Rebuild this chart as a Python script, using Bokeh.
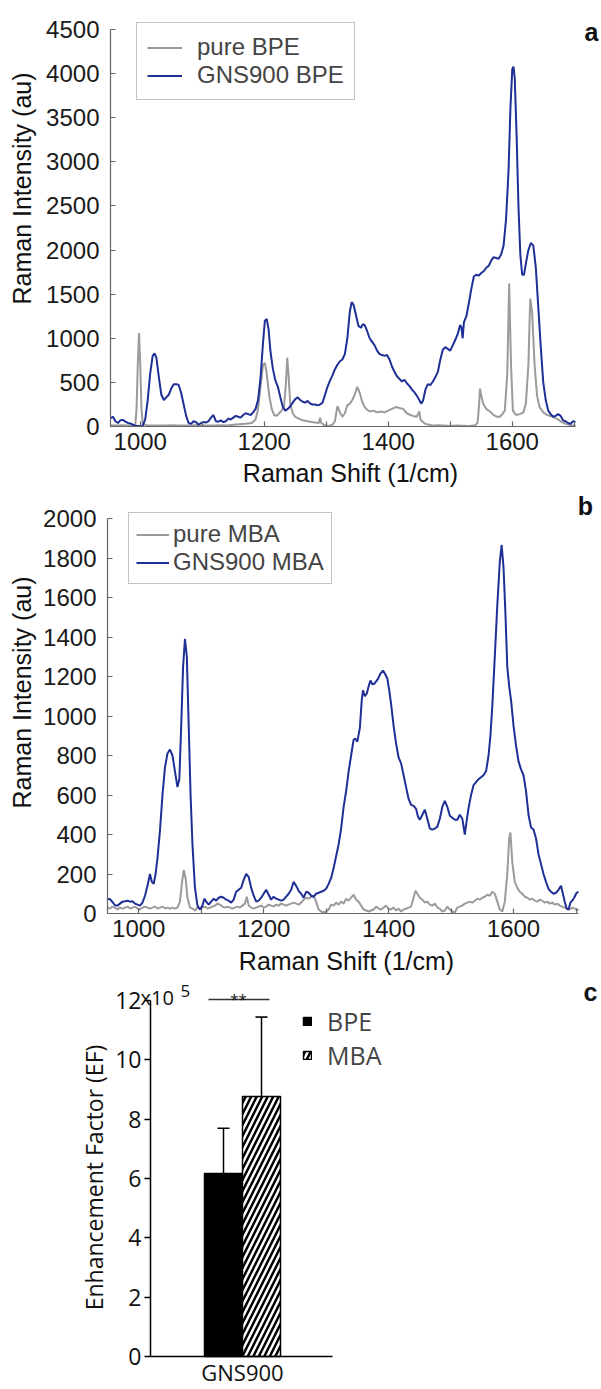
import math
from bokeh.plotting import figure
from bokeh.models import (Legend, LegendItem, Label, FixedTicker, Whisker, TeeHead,
                          ColumnDataSource, Range1d)
from bokeh.layouts import column
from bokeh.embed import file_html
from bokeh.resources import INLINE

# ---------------- data ----------------
# Panel a: BPE spectra (Raman shift 1/cm, intensity au)
bpe_pure = [(952,15),(960,10),(970,15),(980,10),(988,12),(992,20),(994,200),(996,700),(998,1060),
    (1000,700),(1002,200),(1004,30),(1010,15),(1020,10),(1030,12),(1040,10),(1050,15),(1060,10),
    (1070,12),(1080,10),(1090,15),(1100,10),(1110,12),(1120,10),(1130,15),(1140,12),(1150,20),
    (1160,25),(1170,30),(1180,40),(1186,80),(1190,200),(1194,450),(1198,700),(1201,720),(1204,600),
    (1208,350),(1212,200),(1216,130),(1220,120),(1224,150),(1228,180),(1232,230),(1235,500),
    (1237,780),(1239,600),(1242,250),(1246,150),(1250,110),(1256,90),(1262,70),(1270,60),(1276,50),
    (1282,45),(1288,40),(1290,100),(1292,40),(1298,10),(1304,5),(1310,20),(1314,60),(1318,230),
    (1322,160),(1326,110),(1330,150),(1334,240),(1338,260),(1342,300),(1346,360),(1350,450),
    (1354,380),(1358,280),(1362,220),(1366,190),(1370,170),(1376,180),(1382,160),(1388,170),
    (1394,160),(1400,180),(1406,200),(1412,220),(1418,210),(1424,200),(1430,150),(1436,130),
    (1440,120),(1446,110),(1450,170),(1452,80),(1456,50),(1460,30),(1466,20),(1472,10),(1480,15),
    (1490,10),(1500,5),(1510,10),(1520,8),(1530,5),(1540,15),(1544,40),(1546,200),(1548,430),
    (1550,350),(1553,260),(1558,200),(1564,170),(1570,130),(1576,110),(1580,110),(1584,140),
    (1588,180),(1592,600),(1595,1620),(1598,700),(1601,180),(1606,130),(1612,140),(1618,160),
    (1622,260),(1626,700),(1629,1450),(1632,1300),(1636,700),(1640,350),(1644,220),(1650,160),
    (1656,130),(1662,120),(1668,100),(1674,80),(1680,50),(1686,30),(1692,20),(1698,10),(1702,8)]

bpe_gns900 = [(952,95),(956,110),(960,60),(964,40),(968,70),(972,75),(976,55),(980,40),(984,35),
    (988,20),(992,10),(996,5),(1000,5),(1004,10),(1008,80),(1012,300),(1016,600),(1020,800),
    (1023,830),(1026,780),(1030,560),(1034,360),(1038,300),(1042,330),(1046,360),(1050,430),
    (1054,480),(1058,480),(1062,470),(1066,380),(1070,250),(1074,120),(1078,40),(1082,30),(1086,60),
    (1090,50),(1094,20),(1098,40),(1102,50),(1106,45),(1110,60),(1114,100),(1118,130),(1122,60),
    (1126,55),(1130,70),(1134,50),(1138,60),(1142,90),(1146,80),(1150,100),(1154,120),(1158,110),
    (1162,100),(1166,130),(1170,150),(1174,140),(1178,130),(1182,160),(1186,200),(1190,300),
    (1194,550),(1198,950),(1201,1200),(1204,1220),(1207,1100),(1210,850),(1214,650),(1218,520),
    (1222,450),(1226,330),(1230,220),(1234,180),(1238,200),(1242,230),(1246,270),(1250,310),
    (1254,330),(1258,300),(1262,280),(1266,270),(1270,290),(1274,260),(1278,250),(1282,250),
    (1286,240),(1290,250),(1294,270),(1298,360),(1302,450),(1306,520),(1310,580),(1314,650),
    (1318,700),(1322,740),(1326,760),(1330,820),(1334,1000),(1338,1300),(1341,1410),(1344,1380),
    (1348,1260),(1352,1140),(1356,1120),(1359,1160),(1362,1150),(1366,1080),(1370,1000),
    (1374,960),(1378,920),(1382,860),(1386,820),(1390,810),(1394,800),(1398,810),(1402,760),
    (1406,680),(1410,620),(1414,570),(1418,540),(1422,510),(1426,530),(1430,490),(1434,460),
    (1438,420),(1442,390),(1446,350),(1450,300),(1453,260),(1456,290),(1460,420),(1464,480),
    (1468,470),(1472,510),(1476,560),(1480,620),(1484,760),(1488,870),(1492,900),(1496,880),
    (1500,860),(1504,920),(1508,980),(1512,1050),(1516,1150),(1518,1120),(1520,1000),(1522,1180),
    (1526,1250),(1530,1400),(1534,1560),(1538,1700),(1542,1720),(1546,1710),(1550,1740),
    (1554,1760),(1558,1800),(1562,1820),(1566,1880),(1570,1920),(1574,1910),(1578,1900),
    (1582,1950),(1586,2050),(1590,2350),(1594,2900),(1597,3600),(1600,4050),(1602,4080),
    (1604,3950),(1607,3300),(1610,2500),(1613,1950),(1616,1720),(1619,1720),(1622,1850),
    (1626,2000),(1630,2080),(1634,2050),(1638,1800),(1642,1350),(1646,900),(1650,500),(1654,300),
    (1658,180),(1662,140),(1666,110),(1670,120),(1674,140),(1678,120),(1682,70),(1686,60),
    (1690,40),(1694,30),(1698,60),(1702,50)]

# Panel b: MBA spectra
mba_pure = [(950,30),(954,25),(958,35),(962,30),(966,20),(970,30),(974,25),(978,30),(982,35),
    (986,25),(990,30),(994,35),(998,25),(1002,20),(1006,30),(1010,35),(1014,30),(1018,25),
    (1022,30),(1026,35),(1030,25),(1034,30),(1038,35),(1042,25),(1046,30),(1050,25),(1054,30),
    (1058,25),(1062,30),(1066,60),(1069,150),(1072,220),(1075,180),(1078,80),(1082,30),(1086,25),
    (1090,15),(1094,30),(1098,25),(1102,30),(1106,35),(1110,25),(1114,30),(1118,35),(1122,40),
    (1126,50),(1130,45),(1134,35),(1138,30),(1142,35),(1146,30),(1150,25),(1154,30),(1158,35),
    (1162,30),(1166,40),(1170,50),(1173,85),(1176,40),(1180,30),(1184,25),(1188,30),(1192,35),
    (1196,40),(1200,30),(1204,35),(1208,45),(1212,40),(1216,35),(1220,45),(1224,40),(1228,50),
    (1232,45),(1236,40),(1240,45),(1244,50),(1248,55),(1252,50),(1256,45),(1260,55),(1264,70),
    (1268,80),(1272,75),(1276,85),(1280,90),(1284,60),(1288,20),(1292,10),(1296,5),(1300,10),
    (1304,20),(1308,45),(1312,40),(1316,55),(1320,45),(1324,60),(1328,50),(1332,75),(1336,65),
    (1340,80),(1344,95),(1348,70),(1352,60),(1356,40),(1360,20),(1364,15),(1368,10),(1372,15),
    (1376,20),(1380,35),(1384,25),(1388,20),(1392,30),(1396,40),(1400,25),(1404,20),(1408,30),
    (1412,15),(1416,25),(1420,10),(1424,20),(1428,25),(1432,30),(1436,35),(1440,80),(1443,115),
    (1446,100),(1450,80),(1454,70),(1458,55),(1462,60),(1466,45),(1470,40),(1474,50),(1478,30),
    (1482,25),(1486,10),(1490,15),(1494,35),(1498,20),(1502,10),(1506,5),(1510,30),(1514,35),
    (1518,40),(1522,50),(1526,55),(1530,60),(1534,55),(1538,65),(1542,75),(1546,70),(1550,80),
    (1554,85),(1558,95),(1562,90),(1566,110),(1570,100),(1574,60),(1578,20),(1582,10),(1586,60),
    (1590,200),(1593,380),(1595,410),(1598,260),(1602,160),(1606,130),(1610,110),(1614,100),
    (1618,85),(1622,80),(1626,70),(1630,75),(1634,65),(1638,60),(1642,70),(1646,65),(1650,55),
    (1654,60),(1658,50),(1662,55),(1666,45),(1670,50),(1674,40),(1678,35),(1682,30),(1686,25),
    (1690,20),(1694,30),(1698,25),(1702,20),(1704,15)]

mba_gns900 = [(950,75),(954,72),(958,58),(962,42),(966,40),(970,50),(974,60),(978,62),(982,65),
    (986,60),(990,62),(994,50),(998,45),(1002,40),(1006,55),(1010,90),(1014,140),(1018,200),
    (1021,160),(1024,150),(1027,200),(1030,280),(1034,420),(1038,600),(1042,740),(1046,810),
    (1050,830),(1054,800),(1058,720),(1062,640),(1065,680),(1068,950),(1071,1250),(1074,1390),
    (1077,1300),(1080,950),(1083,600),(1086,350),(1090,130),(1094,40),(1098,20),(1102,40),
    (1105,75),(1108,60),(1112,45),(1116,60),(1120,75),(1124,65),(1128,80),(1132,85),(1136,80),
    (1140,70),(1144,65),(1148,55),(1152,70),(1156,110),(1160,120),(1164,130),(1168,170),
    (1172,200),(1176,185),(1180,130),(1184,90),(1188,60),(1192,65),(1196,80),(1200,100),
    (1204,120),(1208,95),(1212,70),(1216,85),(1220,75),(1224,70),(1228,65),(1232,70),(1236,85),
    (1240,100),(1244,120),(1248,160),(1252,140),(1256,115),(1260,100),(1264,80),(1268,110),
    (1272,105),(1276,90),(1280,85),(1284,100),(1288,105),(1292,110),(1296,115),(1300,125),
    (1304,150),(1308,180),(1312,230),(1316,290),(1320,350),(1324,430),(1328,540),(1332,620),
    (1336,720),(1340,800),(1344,880),(1347,885),(1350,870),(1354,940),(1357,1080),(1359,1130),
    (1362,1100),(1365,1113),(1368,1150),(1371,1180),(1374,1160),(1377,1163),(1380,1175),
    (1383,1188),(1387,1215),(1391,1230),(1394,1215),(1398,1190),(1401,1130),(1404,1060),
    (1408,950),(1412,860),(1416,790),(1420,760),(1424,700),(1428,640),(1432,580),(1436,550),
    (1440,545),(1444,530),(1447,490),(1450,475),(1454,500),(1458,525),(1462,480),(1466,430),
    (1470,425),(1474,430),(1478,440),(1482,480),(1486,540),(1490,570),(1494,540),(1498,495),
    (1502,485),(1506,475),(1510,475),(1514,500),(1518,480),(1522,400),(1525,470),(1528,535),
    (1532,600),(1536,650),(1540,665),(1544,680),(1548,690),(1552,700),(1556,720),(1560,800),
    (1563,900),(1566,1050),(1570,1300),(1574,1560),(1578,1780),(1581,1866),(1584,1750),
    (1587,1520),(1590,1250),(1593,1150),(1596,1080),(1600,950),(1604,850),(1608,770),(1612,730),
    (1616,700),(1620,620),(1624,500),(1628,435),(1632,425),(1636,380),(1640,300),(1644,250),
    (1648,200),(1652,160),(1656,125),(1660,110),(1664,100),(1668,105),(1672,120),(1676,140),
    (1679,100),(1682,60),(1685,25),(1688,20),(1691,55),(1694,65),(1697,80),(1701,105),(1704,110)]

# Panel c: enhancement factor (x10^5)
ef_group = "GNS900"
ef_probe = ["BPE", "MBA"]
ef_mean = [6.17, 8.76]
ef_err = [1.52, 2.68]
sig_label = "**"

a_xticks = [1000, 1100, 1200, 1300, 1400, 1500, 1600, 1700]
a_yticks = [0, 500, 1000, 1500, 2000, 2500, 3000, 3500, 4000, 4500]
b_xticks = [1000, 1100, 1200, 1300, 1400, 1500, 1600, 1700]
b_yticks = [0, 200, 400, 600, 800, 1000, 1200, 1400, 1600, 1800, 2000]
c_yticks = [0, 2, 4, 6, 8, 10, 12]
x_label_show = [1000, 1200, 1400, 1600]

# ---------------- style ----------------
W = 601
SANS = "Liberation Sans"
SANS_C = "Open Sans"
BLUE = "#1e2f96"
GRAY = "#9b9b9b"
AXC = "#666666"


def unzip(pairs):
    return [p[0] for p in pairs], [p[1] for p in pairs]


class Panel:
    """Figure whose frame fills the whole canvas; maps page pixels <-> data."""
    def __init__(self, top, height, xa, xb, ya, yb):
        # xa/xb: (page px, data value); ya/yb: (page py, data value)
        self.top, self.h = top, height
        self.xpx, self.xval = xa
        self.xs = (xb[0] - xa[0]) / (xb[1] - xa[1])
        self.ypx, self.yval = ya
        self.ys = (ya[0] - yb[0]) / (yb[1] - ya[1])
        self.x_range = (self.x(0), self.x(W))
        self.y_range = (self.y(top + height), self.y(top))

    def x(self, px):
        return self.xval + (px - self.xpx) / self.xs

    def y(self, py):
        return self.yval + (self.ypx - py) / self.ys

    def fig(self):
        p = figure(width=W, height=self.h, x_range=Range1d(*self.x_range),
                   y_range=Range1d(*self.y_range), output_backend="svg", toolbar_location=None,
                   min_border=0, min_border_left=0, min_border_right=0,
                   min_border_top=0, min_border_bottom=0)
        p.outline_line_color = None
        p.grid.visible = False
        p.background_fill_color = "white"
        p.border_fill_color = "white"
        return p

    def text(self, p, px, py, text, size, font=SANS, align="center", baseline="middle",
             angle=0.0, style="normal"):
        p.add_layout(Label(x=self.x(px), y=self.y(py), text=text, text_font=font,
                           text_font_size=size, text_align=align, text_baseline=baseline,
                           angle=angle, text_font_style=style, text_color="#111111"))


def spectrum_axes(p, xb, yb, xticks, yticks):
    p.xaxis.fixed_location = yb[0]
    p.yaxis.fixed_location = xb[0]
    p.xaxis.bounds = xb
    p.yaxis.bounds = yb
    for ax in (p.xaxis, p.yaxis):
        ax.axis_line_color = AXC
        ax.axis_line_width = 1.2
        ax.major_tick_line_color = AXC
        ax.major_tick_line_width = 1.2
        ax.major_tick_in = 5
        ax.major_tick_out = 0
        ax.minor_tick_line_color = None
        ax.major_label_text_font = SANS
        ax.major_label_text_font_size = "24px"
        ax.major_label_text_color = "#1a1a1a"
    p.xaxis.ticker = FixedTicker(ticks=xticks)
    p.xaxis.major_label_overrides = {t: (str(t) if t in x_label_show else "") for t in xticks}
    p.yaxis.ticker = FixedTicker(ticks=yticks)
    p.xaxis.major_label_standoff = 6
    p.yaxis.major_label_standoff = 11


def spectrum_legend(labels, renderers, loc, pad, gw, standoff):
    return Legend(items=[LegendItem(label=l, renderers=[r]) for l, r in zip(labels, renderers)],
                  location=loc, padding=pad, spacing=0, margin=0,
                  glyph_width=gw, glyph_height=23, label_height=23, label_standoff=standoff,
                  label_text_font=SANS, label_text_font_size="24px",
                  border_line_color="#888888", border_line_width=1,
                  background_fill_color="white", background_fill_alpha=1.0)


# ---------------- panel a ----------------
A = Panel(0, 490, (110, 952), (575, 1702), (426, 0), (29, 4500))
pa = A.fig()
spectrum_axes(pa, (952, 1702), (0, 4500), a_xticks, a_yticks)
x, y = unzip(bpe_pure)
ra1 = pa.line(x, y, line_color=GRAY, line_width=2)
x, y = unzip(bpe_gns900)
ra2 = pa.line(x, y, line_color=BLUE, line_width=2)
pa.add_layout(spectrum_legend(["pure BPE", "GNS900 BPE"], [ra1, ra2],
                              (136, 490 - 100), 10, 35, 15))
A.text(pa, 350, 472, "Raman Shift (1/cm)", "25px", baseline="alphabetic")
A.text(pa, 21, 188, "Raman Intensity (au)", "25px", angle=math.pi / 2)
A.text(pa, 591, 31, "a", "25px", style="bold")

# ---------------- panel b ----------------
B = Panel(490, 485, (107, 950), (578, 1704), (913, 0), (518, 2000))
pb = B.fig()
spectrum_axes(pb, (950, 1704), (0, 2000), b_xticks, b_yticks)
x, y = unzip(mba_pure)
rb1 = pb.line(x, y, line_color=GRAY, line_width=2)
x, y = unzip(mba_gns900)
rb2 = pb.line(x, y, line_color=BLUE, line_width=2)
pb.add_layout(spectrum_legend(["pure MBA", "GNS900 MBA"], [rb1, rb2],
                              (128, 975 - 584), 7, 33, 4))
B.text(pb, 346, 960, "Raman Shift (1/cm)", "25px", baseline="alphabetic")
B.text(pb, 21, 692, "Raman Intensity (au)", "25px", angle=math.pi / 2)
B.text(pb, 585, 505, "b", "25px", style="bold")

# ---------------- panel c ----------------
PXU = 92.0  # px per x unit
C = Panel(975, 414, (242, 1.0), (242 + PXU, 2.0), (1356, 0), (1000, 12))
pc = C.fig()
group_x = 1.0
bw = 38 / PXU
bar_x = [group_x - bw / 2, group_x + bw / 2]
r_bpe = pc.vbar(x=[bar_x[0]], top=[ef_mean[0]], width=bw, bottom=0,
                fill_color="black", line_color="black", line_width=1.5)
r_mba = pc.vbar(x=[bar_x[1]], top=[ef_mean[1]], width=bw, bottom=0,
                fill_color="white", line_color="black", line_width=1.5,
                hatch_pattern="/", hatch_color="black", hatch_scale=11, hatch_weight=2.5)
err_src = ColumnDataSource(dict(x=bar_x, lo=[m - e for m, e in zip(ef_mean, ef_err)],
                                hi=[m + e for m, e in zip(ef_mean, ef_err)]))
pc.add_layout(Whisker(source=err_src, base="x", lower="lo", upper="hi",
                      line_color="black", line_width=1.5,
                      upper_head=TeeHead(size=12, line_color="black", line_width=1.5),
                      lower_head=TeeHead(size=12, line_color="black", line_width=1.5)))
# significance bracket
sig_y = C.y(999)
pc.segment(x0=[C.x(208)], y0=[sig_y], x1=[C.x(269)], y1=[sig_y], line_color="#333333",
           line_width=1.5)
C.text(pc, 238, 998, sig_label, "15px", font=SANS_C, baseline="alphabetic")

pc.yaxis.fixed_location = C.x(150)
pc.xaxis.fixed_location = 0
pc.yaxis.ticker = FixedTicker(ticks=c_yticks)
pc.yaxis.bounds = (0, 12)
pc.xaxis.ticker = FixedTicker(ticks=[group_x])
pc.xaxis.major_label_overrides = {group_x: ef_group}
pc.xaxis.bounds = (C.x(150), C.x(332))
for ax in (pc.xaxis, pc.yaxis):
    ax.axis_line_color = "black"
    ax.axis_line_width = 1.5
    ax.major_tick_line_color = "black"
    ax.major_tick_line_width = 1.5
    ax.minor_tick_line_color = None
    ax.major_label_text_font = SANS_C
    ax.major_label_text_color = "#111111"
pc.yaxis.major_tick_in = 0
pc.yaxis.major_tick_out = 6
pc.yaxis.major_label_standoff = 3
pc.yaxis.major_label_text_font_size = "23px"
pc.xaxis.major_tick_in = 0
pc.xaxis.major_tick_out = 0
pc.xaxis.major_label_standoff = 0
pc.xaxis.major_label_text_font_size = "22px"

pc.add_layout(Legend(items=[LegendItem(label=ef_probe[0], renderers=[r_bpe]),
                            LegendItem(label=ef_probe[1], renderers=[r_mba])],
                     location=(302, 1389 - 1072), padding=0, spacing=0, margin=0,
                     glyph_width=10, glyph_height=10, label_height=30, label_standoff=15,
                     label_text_font=SANS_C, label_text_font_size="25px",
                     border_line_color=None, background_fill_alpha=0.0))
C.text(pc, 93, 1177, "Enhancement Factor (EF)", "23px", font=SANS_C, angle=math.pi / 2)
C.text(pc, 140, 997, "x10", "20px", font=SANS_C, align="left", baseline="alphabetic")
C.text(pc, 180, 990, "5", "17px", font=SANS_C, align="left", baseline="alphabetic")
C.text(pc, 590, 991, "c", "25px", style="bold")

layout = column(pa, pb, pc, spacing=0)
open("out.html", "w").write(file_html(layout, INLINE))
